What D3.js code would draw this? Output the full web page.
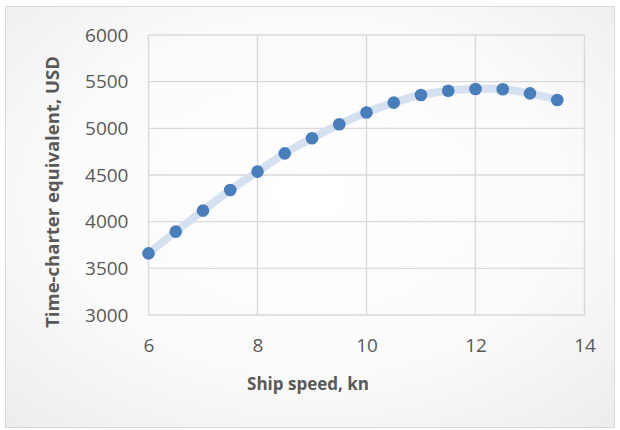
<!DOCTYPE html>
<html>
<head>
<meta charset="utf-8">
<script src="https://cdn.jsdelivr.net/npm/d3@7/dist/d3.min.js"></script>
<style>
  html, body { margin: 0; padding: 0; background: #ffffff; }
  svg { display: block; }
  text { font-family: "Open Sans", "Noto Sans", sans-serif; fill: #595959; }
</style>
</head>
<body>
<svg id="chart" width="620" height="430"></svg>
<script>
// Ship speed (knots) and the resulting time-charter equivalent (USD/day)
const speeds = [6, 6.5, 7, 7.5, 8, 8.5, 9, 9.5, 10, 10.5, 11, 11.5, 12, 12.5, 13, 13.5];
const tceValues = [3660, 3893, 4118, 4339, 4536, 4732, 4893, 5043, 5170, 5275, 5357, 5403, 5421, 5418, 5375, 5304];
const xTicks = [6, 8, 10, 12, 14];
const yTicks = [3000, 3500, 4000, 4500, 5000, 5500, 6000];
const xTitle = "Ship speed, kn";
const yTitle = "Time-charter equivalent, USD";

const svg = d3.select("#chart");

// Chart area background: soft radial fill with a thin grey frame
const defs = svg.append("defs");
const grad = defs.append("radialGradient")
  .attr("id", "bg").attr("cx", "50%").attr("cy", "45%").attr("r", "75%");
grad.append("stop").attr("offset", "0%").attr("stop-color", "#ffffff");
grad.append("stop").attr("offset", "55%").attr("stop-color", "#fbfbfb");
grad.append("stop").attr("offset", "100%").attr("stop-color", "#ececec");

svg.append("rect")
  .attr("x", 5.5).attr("y", 6.5).attr("width", 609).attr("height", 421)
  .attr("fill", "url(#bg)").attr("stroke", "#d9d9d9").attr("stroke-width", 1);

const plot = { left: 148.5, right: 584.5, top: 35, bottom: 315 };

const x = d3.scaleLinear().domain([6, 14]).range([plot.left, plot.right]);
const y = d3.scaleLinear().domain([3000, 6000]).range([plot.bottom, plot.top]);

// Gridlines
const grid = svg.append("g").attr("stroke", "#d9d9d9").attr("stroke-width", 1.4);
grid.selectAll("line.h").data(yTicks).join("line")
  .attr("x1", plot.left).attr("x2", plot.right)
  .attr("y1", d => y(d)).attr("y2", d => y(d));
grid.selectAll("line.v").data(xTicks).join("line")
  .attr("y1", plot.top).attr("y2", plot.bottom)
  .attr("x1", d => x(d)).attr("x2", d => x(d));

// Axes (labels only, the gridlines serve as frame)
const xAxis = svg.append("g")
  .attr("transform", `translate(0,${plot.bottom})`)
  .call(d3.axisBottom(x).tickValues(xTicks).tickSize(0).tickPadding(20).tickFormat(d3.format("d")));
const yAxis = svg.append("g")
  .attr("transform", `translate(${plot.left},0)`)
  .call(d3.axisLeft(y).tickValues(yTicks).tickSize(0).tickPadding(20).tickFormat(d3.format("d")));
[xAxis, yAxis].forEach(a => {
  a.select(".domain").remove();
  a.selectAll("text").style("font-size", "19px").attr("fill", "#595959");
});
xAxis.selectAll("text").attr("dy", "0.71em").attr("y", 24);

// Axis titles
svg.append("text")
  .attr("x", 308).attr("y", 390)
  .attr("text-anchor", "middle")
  .style("font-size", "17px").style("font-weight", "bold")
  .text(xTitle);
svg.append("text")
  .attr("transform", "translate(59,192) rotate(-90)")
  .attr("text-anchor", "middle")
  .style("font-size", "18.5px").style("font-weight", "bold")
  .text(yTitle);

// Smoothed trend line behind the markers
const pts = speeds.map((s, i) => [s, tceValues[i]]);
svg.append("path")
  .datum(pts)
  .attr("fill", "none")
  .attr("stroke", "#d5e0f0")
  .attr("stroke-width", 8)
  .attr("stroke-linecap", "round")
  .attr("d", d3.line().x(d => x(d[0])).y(d => y(d[1])).curve(d3.curveCatmullRom));

// Data markers
svg.append("g").selectAll("circle").data(pts).join("circle")
  .attr("cx", d => x(d[0])).attr("cy", d => y(d[1]))
  .attr("r", 6.3)
  .attr("fill", "#4a7ebb");
</script>
</body>
</html>
